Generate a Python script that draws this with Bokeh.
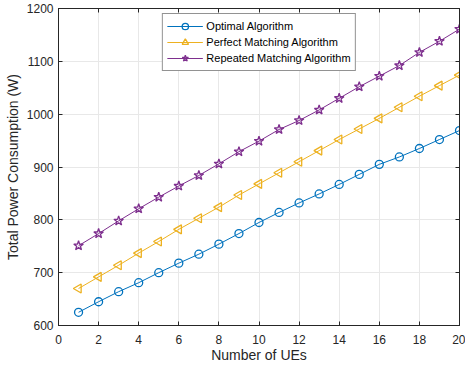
import math
from bokeh.plotting import figure
from bokeh.models import LinearAxis, FixedTicker, Range1d, Legend, LegendItem
from bokeh.embed import file_html
from bokeh.resources import INLINE

ues = list(range(1, 21))
optimal = [625, 645, 664, 681, 700, 718, 735, 754, 774, 795, 814, 832, 849, 867, 886, 905, 919, 935, 952, 969]
perfect = [670, 692, 714, 737, 759, 782, 803, 824, 847, 868, 889, 910, 931, 952, 972, 992, 1013, 1034, 1054, 1074]
repeated = [751, 774, 798, 821, 843, 864, 884, 906, 929, 949, 971, 988, 1008, 1030, 1052, 1072, 1092, 1117, 1138, 1161]
names = ["Optimal Algorithm", "Perfect Matching Algorithm", "Repeated Matching Algorithm"]
x_ticks = list(range(0, 21, 2))
y_ticks = list(range(600, 1201, 100))

FONT = "Liberation Sans"
TXT = "#262626"

p = figure(width=465, height=369, output_backend="svg", toolbar_location=None,
           x_range=Range1d(0, 20), y_range=Range1d(600, 1200),
           min_border_left=58, min_border_right=6, min_border_top=8, min_border_bottom=44)
p.background_fill_color = "white"
p.border_fill_color = "white"
p.outline_line_color = TXT
p.outline_line_width = 1

for ax in (p.xaxis[0], p.yaxis[0]):
    ax.major_tick_in = 4
    ax.major_tick_out = 0
    ax.minor_tick_in = 0
    ax.minor_tick_out = 0
    ax.axis_line_color = TXT
    ax.major_tick_line_color = TXT
    ax.major_label_text_font = FONT
    ax.major_label_text_font_size = "12px"
    ax.major_label_text_color = TXT
    ax.axis_label_text_font = FONT
    ax.axis_label_text_font_size = "14px"
    ax.axis_label_text_font_style = "normal"
    ax.axis_label_text_color = TXT
p.xaxis[0].ticker = FixedTicker(ticks=x_ticks)
p.yaxis[0].ticker = FixedTicker(ticks=y_ticks)
p.xaxis[0].axis_label = "Number of UEs"
p.yaxis[0].axis_label = "Total Power Consumption (W)"
p.xaxis[0].axis_label_standoff = 0
p.yaxis[0].axis_label_standoff = 3
p.xaxis[0].major_label_standoff = 9
p.yaxis[0].major_label_standoff = 5

for loc, tk in (("right", y_ticks), ("above", x_ticks)):
    a = LinearAxis(ticker=FixedTicker(ticks=tk), major_tick_in=4, major_tick_out=0,
                   minor_tick_in=0, minor_tick_out=0, axis_line_color=TXT,
                   major_tick_line_color=TXT,
                   major_label_overrides={t: "" for t in tk},
                   major_label_standoff=0)
    p.add_layout(a, loc)

p.grid.grid_line_color = "#e8e8e8"
p.grid.grid_line_width = 1
p.xgrid.ticker = FixedTicker(ticks=x_ticks)
p.ygrid.ticker = FixedTicker(ticks=y_ticks)

c1, c2, c3 = "#0072BD", "#EDB120", "#7E2F8E"
l1 = p.line(ues, optimal, color=c1, line_width=1)
m1 = p.scatter(ues, optimal, marker="circle", size=8, line_color=c1, fill_color=None, line_width=1.3)
l2 = p.line(ues, perfect, color=c2, line_width=1)
m2 = p.scatter(ues, perfect, marker="triangle", angle=math.pi / 2, size=9, line_color=c2, fill_color=None, line_width=1.3)
l3 = p.line(ues, repeated, color=c3, line_width=1)
m3 = p.scatter(ues, repeated, marker="star", size=10, line_color=c3, fill_color=None, line_width=1.3)

legend = Legend(items=[LegendItem(label=names[0], renderers=[l1, m1]),
                       LegendItem(label=names[1], renderers=[l2, m2]),
                       LegendItem(label=names[2], renderers=[l3, m3])],
                location="top_center")
legend.label_text_font = FONT
legend.label_text_font_size = "11px"
legend.label_text_color = "black"
legend.border_line_color = TXT
legend.border_line_width = 1
legend.background_fill_alpha = 1
legend.glyph_width = 36
legend.glyph_height = 16
legend.label_height = 16
legend.spacing = 0
legend.padding = 4
legend.margin = 5
legend.label_standoff = 4
p.add_layout(legend)

open("out.html", "w").write(file_html(p, INLINE))
